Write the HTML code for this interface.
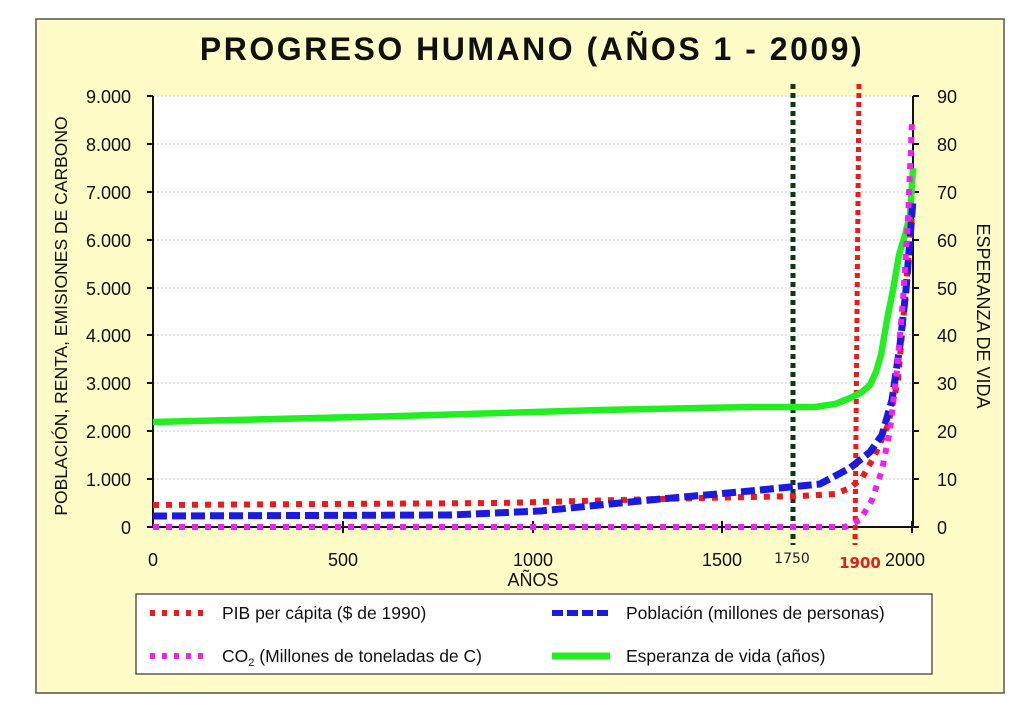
<!DOCTYPE html>
<html><head><meta charset="utf-8"><style>
body{margin:0;background:#fff;}
svg{display:block;font-family:"Liberation Sans",sans-serif;}
</style></head><body>
<svg width="1024" height="712" viewBox="0 0 1024 712" xmlns="http://www.w3.org/2000/svg">
<rect x="36" y="19" width="968" height="674" fill="#fffcc8" stroke="#555" stroke-width="1.5"/>
<text x="532" y="60" text-anchor="middle" font-size="32" font-weight="bold" letter-spacing="2.5" fill="#111">PROGRESO HUMANO (AÑOS 1 - 2009)</text>
<rect x="153" y="96" width="760" height="431" fill="#fff"/>
<g stroke="#ccc" stroke-width="1" stroke-dasharray="2,2">
<line x1="153" x2="913" y1="96" y2="96"/><line x1="153" x2="913" y1="144" y2="144"/><line x1="153" x2="913" y1="192" y2="192"/><line x1="153" x2="913" y1="240" y2="240"/><line x1="153" x2="913" y1="288" y2="288"/><line x1="153" x2="913" y1="335" y2="335"/><line x1="153" x2="913" y1="383" y2="383"/><line x1="153" x2="913" y1="431" y2="431"/><line x1="153" x2="913" y1="479" y2="479"/>
</g>
<g stroke="#111" stroke-width="2">
<line x1="153" y1="96" x2="153" y2="527"/><line x1="913" y1="96" x2="913" y2="527"/><line x1="147" y1="527" x2="919" y2="527"/>
<line x1="147" y1="96" x2="153" y2="96"/><line x1="147" y1="144" x2="153" y2="144"/><line x1="147" y1="192" x2="153" y2="192"/><line x1="147" y1="240" x2="153" y2="240"/><line x1="147" y1="288" x2="153" y2="288"/><line x1="147" y1="335" x2="153" y2="335"/><line x1="147" y1="383" x2="153" y2="383"/><line x1="147" y1="431" x2="153" y2="431"/><line x1="147" y1="479" x2="153" y2="479"/>
<line x1="913" y1="96" x2="919" y2="96"/><line x1="913" y1="144" x2="919" y2="144"/><line x1="913" y1="192" x2="919" y2="192"/><line x1="913" y1="240" x2="919" y2="240"/><line x1="913" y1="288" x2="919" y2="288"/><line x1="913" y1="335" x2="919" y2="335"/><line x1="913" y1="383" x2="919" y2="383"/><line x1="913" y1="431" x2="919" y2="431"/><line x1="913" y1="479" x2="919" y2="479"/>
<line x1="343" y1="521" x2="343" y2="533"/><line x1="533" y1="521" x2="533" y2="533"/><line x1="722" y1="521" x2="722" y2="533"/><line x1="912" y1="521" x2="912" y2="533"/>
</g>
<g font-size="18" fill="#111" text-anchor="end">
<text x="131" y="103">9.000</text><text x="131" y="151">8.000</text><text x="131" y="199">7.000</text><text x="131" y="247">6.000</text><text x="131" y="295">5.000</text><text x="131" y="342">4.000</text><text x="131" y="390">3.000</text><text x="131" y="438">2.000</text><text x="131" y="486">1.000</text><text x="131" y="534">0</text>
</g>
<g font-size="18" fill="#111">
<text x="937" y="103">90</text><text x="937" y="151">80</text><text x="937" y="199">70</text><text x="937" y="247">60</text><text x="937" y="295">50</text><text x="937" y="342">40</text><text x="937" y="390">30</text><text x="937" y="438">20</text><text x="937" y="486">10</text><text x="937" y="534">0</text>
</g>
<g font-size="18" fill="#111" text-anchor="middle">
<text x="153" y="566">0</text><text x="343" y="566">500</text><text x="533" y="566">1000</text><text x="722" y="566">1500</text><text x="905" y="566">2000</text>
<text x="533" y="586">AÑOS</text>
</g>
<text x="792" y="563" font-size="14" text-anchor="middle" fill="#222" font-family="DejaVu Sans">1750</text>
<text x="860" y="568" font-size="15" font-weight="bold" text-anchor="middle" fill="#e02020" font-family="DejaVu Sans">1900</text>
<text transform="translate(67,316) rotate(-90)" font-size="17.5" text-anchor="middle" fill="#111">POBLACIÓN, RENTA, EMISIONES DE CARBONO</text>
<text transform="translate(977,316) rotate(90)" font-size="18" text-anchor="middle" fill="#111">ESPERANZA DE VIDA</text>
<line x1="793" y1="84" x2="793" y2="545" stroke="#0b3a10" stroke-width="5" stroke-dasharray="5,4"/>
<line x1="859" y1="84" x2="855" y2="545" stroke="#f01818" stroke-width="5" stroke-dasharray="5,4"/>
<polyline fill="none" stroke="#22ee22" stroke-width="6.5" points="153,422 400,416 600,410 750,407 815,407 835,404 850,398 862,392 870,385 876,372 881,355 887,320 893,290 899,255 905,235 910,215 913,168"/>
<polyline fill="none" stroke="#f01818" stroke-width="6" stroke-dasharray="6,7" points="153,505 500,503 700,498 800,496 835,494 850,488 862,478 875,455 888,425 898,380 905,300 912,215"/>
<polyline fill="none" stroke="#1a1ae0" stroke-width="7" stroke-dasharray="14,5" points="153,516 450,515 540,511 650,500 750,491 820,484 850,468 870,452 882,435 892,400 900,345 906,290 913,200"/>
<polyline fill="none" stroke="#f020f0" stroke-width="6" stroke-dasharray="6,7" points="153,527 845,527 860,520 872,500 882,470 890,430 897,370 903,300 908,220 912,122"/>
<rect x="136" y="594" width="796" height="80" fill="#fff" stroke="#333" stroke-width="1.2"/>
<line x1="150" y1="613" x2="207" y2="613" stroke="#f01818" stroke-width="6" stroke-dasharray="5,7"/>
<line x1="150" y1="656" x2="207" y2="656" stroke="#f020f0" stroke-width="6" stroke-dasharray="5,7"/>
<line x1="552" y1="613" x2="610" y2="613" stroke="#1a1ae0" stroke-width="6" stroke-dasharray="11,4"/>
<line x1="552" y1="656" x2="610" y2="656" stroke="#22ee22" stroke-width="7"/>
<g font-size="17.5" fill="#111">
<text x="222" y="619">PIB per cápita ($ de 1990)</text>
<text x="222" y="662">CO<tspan font-size="11" dy="4">2</tspan><tspan dy="-4"> (Millones de toneladas de C)</tspan></text>
<text x="626" y="619">Población (millones de personas)</text>
<text x="626" y="662">Esperanza de vida (años)</text>
</g>
</svg>
</body></html>
